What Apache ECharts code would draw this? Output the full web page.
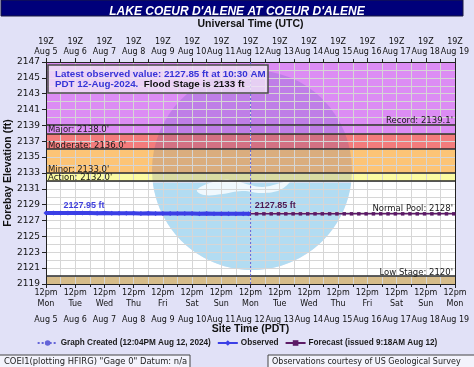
<!DOCTYPE html>
<html>
<head>
<meta charset="utf-8">
<script src="https://cdn.jsdelivr.net/npm/echarts@6/dist/echarts.min.js"></script>
<style>
  html, body { margin: 0; padding: 0; background: #e1e1f7; }
  #chart { width: 474px; height: 367px; }
</style>
</head>
<body>
<div id="chart"></div>
<script>
// axis base (ECharts counts ticks from min, so the y scale is offset to 0)
const BASE = 2119;
const TOP = 2147;

// tick labels, one per 12pm PDT / 19Z
const dayNames = ['Mon', 'Tue', 'Wed', 'Thu', 'Fri', 'Sat', 'Sun', 'Mon', 'Tue', 'Wed', 'Thu', 'Fri', 'Sat', 'Sun', 'Mon'];
const dayDates = ['Aug 5', 'Aug 6', 'Aug 7', 'Aug 8', 'Aug 9', 'Aug 10', 'Aug 11', 'Aug 12', 'Aug 13', 'Aug 14', 'Aug 15', 'Aug 16', 'Aug 17', 'Aug 18', 'Aug 19'];

// hours after 12pm PDT Aug 5
const obsHours = [0, 6, 12, 18, 24, 30, 36, 42, 48, 54, 60, 66, 72, 78, 84, 90, 96, 102, 108, 114, 120, 126, 132, 138, 144, 150, 156, 162, 166.5];
const obsValues = [2127.95, 2127.97, 2127.96, 2127.95, 2127.96, 2127.94, 2127.95, 2127.93, 2127.94, 2127.92, 2127.93, 2127.91, 2127.92, 2127.90, 2127.91, 2127.90, 2127.89, 2127.90, 2127.88, 2127.89, 2127.88, 2127.87, 2127.88, 2127.87, 2127.86, 2127.86, 2127.85, 2127.86, 2127.85];

const fcstHours = [167, 173, 179, 185, 191, 197, 203, 209, 215, 221, 227, 233, 239, 245, 251, 257, 263, 269, 275, 281, 287, 293, 299, 305, 311, 317, 323, 329, 335];
const fcstValues = [2127.85, 2127.85, 2127.85, 2127.85, 2127.85, 2127.85, 2127.85, 2127.85, 2127.85, 2127.85, 2127.85, 2127.85, 2127.85, 2127.85, 2127.85, 2127.85, 2127.85, 2127.85, 2127.85, 2127.85, 2127.85, 2127.85, 2127.85, 2127.85, 2127.85, 2127.85, 2127.85, 2127.85, 2127.85];

const graphCreatedHour = 168.07; // 12:04PM Aug 12
const latestValue = 2127.85;
const floodStage = 2133;

// flood categories
const stageLabels = ["Record: 2139.1'", "Major: 2138.0'", "Moderate: 2136.0'", "Minor: 2133.0'", "Action: 2132.0'", "Normal Pool: 2128'", "Low Stage: 2120'"];
const stageValues = [2139.1, 2138, 2136, 2133, 2132, 2128, 2120];

const bandLow = [2138, 2136, 2133, 2132, 2120, BASE];
const bandHigh = [TOP, 2138, 2136, 2133, 2132, 2120];

const bandColors = ['#dc8cf4', '#f37c7c', '#fcc476', '#fbfba2', '#ffffff', '#d6bc8a'];
const stageAtEnd = { "Record": 1, "Normal Pool": 1, "Low Stage": 1 };
const FONT = 'DejaVu Sans';
const BOLD = 'Liberation Sans';

const off = v => +(v - BASE).toFixed(3);

const myChart = echarts.init(document.getElementById('chart'));

const bandAreas = bandLow.map((lo, i) => [
  { yAxis: off(lo), itemStyle: { color: bandColors[i] } },
  { yAxis: off(bandHigh[i]) }
]);

const stageLines = stageValues.map((v, i) => {
  const name = stageLabels[i].split(':')[0];
  const end = stageAtEnd[name];
  return {
    yAxis: off(v),
    lineStyle: { color: name === 'Normal Pool' ? 'rgba(0,0,0,0)' : '#2a2a2a', width: 1.5, type: 'solid' },
    label: {
      formatter: stageLabels[i],
      position: end ? 'insideEndTop' : 'insideStartTop',
      distance: [2, -1]
    }
  };
});

// logo watermark (decoration only)
const cx = 252, cy = 170, r = 100, cut = 183;
const a0 = Math.asin((cut - cy) / r);
const lowerPts = [];
for (let k = 0; k <= 40; k++) {
  const a = a0 + (Math.PI - 2 * a0) * k / 40;
  lowerPts.push([cx + r * Math.cos(a), cy + r * Math.sin(a)]);
}
const gullPts = [[197, 190], [213, 182], [230, 180], [250, 185], [263, 187], [277, 184], [290, 181], [280, 190], [262, 193], [242, 191], [222, 194], [204, 195]];

const options = {
  backgroundColor: '#e1e1f7',
  animation: false,
  textStyle: { fontFamily: FONT },
  grid: { left: 46, right: 19, top: 62, bottom: 83, containLabel: false, outerBoundsMode: 'none' },
  title: {
    text: "LAKE COEUR D'ALENE AT COEUR D'ALENE",
    left: 'center',
    top: 1,
    z: 30,
    textStyle: { color: '#fff', fontFamily: BOLD, fontWeight: 'bold', fontStyle: 'italic', fontSize: 12 }
  },
  legend: {
    data: ['Graph Created (12:04PM Aug 12, 2024)', 'Observed', 'Forecast (issued 9:18AM Aug 12)'],
    left: 'center',
    top: 334,
    itemWidth: 20,
    itemHeight: 7,
    itemGap: 6,
    textStyle: { fontFamily: BOLD, fontWeight: 'bold', fontSize: 8.2, color: '#1a1a1a', padding: [0, 0, 0, -2] }
  },
  graphic: [
    { type: 'rect', z: 10, shape: { x: 1, y: 0, width: 462, height: 16 }, style: { fill: '#00007a', stroke: '#1a1a40', lineWidth: 1 } },
    { type: 'circle', z: 2, silent: true, shape: { cx: cx, cy: cy, r: r }, style: { fill: 'rgba(45,55,170,0.16)' } },
    { type: 'polygon', z: 2, silent: true, shape: { points: lowerPts }, style: { fill: '#b2dcf2' } },
    { type: 'polygon', z: 2, silent: true, shape: { points: gullPts, smooth: 0.4 }, style: { fill: 'rgba(255,255,255,0.8)' } },
    { type: 'rect', z: 10, shape: { x: 48, y: 65, width: 220, height: 28 }, style: { fill: 'rgba(240,228,246,0.8)', stroke: '#4a4a4a', lineWidth: 1.5 } },
    {
      type: 'text', z: 11, x: 55, y: 70,
      style: {
        text: '{b|Latest observed value: ' + latestValue.toFixed(2) + ' ft at 10:30 AM}\n{b|PDT 12-Aug-2024.}{k|  Flood Stage is ' + floodStage + ' ft}',
        rich: {
          b: { fontFamily: BOLD, fontWeight: 'bold', fontSize: 9.8, fill: '#3636d6', lineHeight: 9.5 },
          k: { fontFamily: BOLD, fontWeight: 'bold', fontSize: 9.8, fill: '#111', lineHeight: 9.5 }
        }
      }
    },
    { type: 'rect', z: 10, shape: { x: -1, y: 355, width: 191, height: 14 }, style: { fill: '#f3f3fc', stroke: '#444', lineWidth: 1 } },
    { type: 'text', z: 11, x: 4, y: 358, style: { text: 'COEI1(plotting HFIRG) "Gage 0" Datum: n/a', fontFamily: FONT, fontSize: 8.4, fill: '#222' } },
    { type: 'rect', z: 10, shape: { x: 268, y: 355, width: 210, height: 14 }, style: { fill: '#f3f3fc', stroke: '#444', lineWidth: 1 } },
    { type: 'text', z: 11, x: 272, y: 358, style: { text: 'Observations courtesy of US Geological Survey', fontFamily: FONT, fontSize: 8, fill: '#222' } }
  ],
  xAxis: [
    {
      type: 'value', position: 'bottom', min: 0, max: 336, interval: 24, z: 3,
      axisLine: { show: true, onZero: false, lineStyle: { color: '#222', width: 1 } },
      axisTick: { show: true, length: 4, lineStyle: { color: '#222' } },
      minorTick: { show: true, splitNumber: 2, length: 3, lineStyle: { color: '#222' } },
      splitLine: { show: true, lineStyle: { color: '#d6d6d6', width: 1 } },
      minorSplitLine: { show: true, lineStyle: { color: '#d6d6d6', width: 1 } },
      axisLabel: {
        margin: 3, fontFamily: FONT, fontSize: 8, color: '#111', lineHeight: 11.5,
        formatter: v => '12pm\n' + dayNames[v / 24] + '\n{d|' + dayDates[v / 24] + '}',
        rich: { d: { fontFamily: FONT, fontSize: 8, color: '#111', lineHeight: 19 } }
      },
      name: 'Site Time (PDT)', nameLocation: 'middle', nameGap: 40, nameMoveOverlap: false,
      nameTextStyle: { fontFamily: BOLD, fontWeight: 'bold', fontSize: 10.5, color: '#111' }
    },
    {
      type: 'value', position: 'top', min: 0, max: 336, interval: 24, z: 3,
      axisLine: { show: true, onZero: false, lineStyle: { color: '#222', width: 1 } },
      axisTick: { show: true, length: 4, lineStyle: { color: '#222' } },
      minorTick: { show: true, splitNumber: 2, length: 3, lineStyle: { color: '#222' } },
      splitLine: { show: false },
      axisLabel: {
        margin: 5, fontFamily: FONT, fontSize: 8, color: '#111', lineHeight: 10,
        formatter: v => '19Z\n' + dayDates[v / 24]
      },
      name: 'Universal Time (UTC)', nameLocation: 'middle', nameGap: 32, nameMoveOverlap: false,
      nameTextStyle: { fontFamily: BOLD, fontWeight: 'bold', fontSize: 10.5, color: '#111' }
    }
  ],
  yAxis: [
    {
      type: 'value', min: 0, max: off(TOP), interval: 2, z: 3,
      axisLine: { show: true, onZero: false, lineStyle: { color: '#222', width: 1 } },
      axisTick: { show: true, length: 4, lineStyle: { color: '#222' } },
      minorTick: { show: false, splitNumber: 2 },
      splitLine: { show: true, lineStyle: { color: '#d6d6d6', width: 1 } },
      minorSplitLine: { show: true, lineStyle: { color: '#d6d6d6', width: 1 } },
      axisLabel: { margin: 6, fontFamily: FONT, fontSize: 9, color: '#111', formatter: v => String(v + BASE) },
      name: 'Forebay Elevation (ft)', nameLocation: 'middle', nameGap: 32, nameMoveOverlap: false,
      nameTextStyle: { fontFamily: BOLD, fontWeight: 'bold', fontSize: 10.5, color: '#111' }
    },
    {
      type: 'value', position: 'right', min: 0, max: off(TOP), z: 3,
      axisLine: { show: true, onZero: false, lineStyle: { color: '#222', width: 1 } },
      axisTick: { show: false }, axisLabel: { show: false }, splitLine: { show: false }
    }
  ],
  series: [
    {
      name: 'bands', type: 'line', z: 1, silent: true, symbol: 'none',
      data: obsHours.map((h, i) => [h, off(obsValues[i])]),
      lineStyle: { opacity: 0 },
      markArea: { silent: true, data: bandAreas }
    },
    {
      name: 'stages', type: 'line', z: 4, silent: true, symbol: 'none',
      data: obsHours.map((h, i) => [h, off(obsValues[i])]),
      lineStyle: { opacity: 0 },
      markLine: {
        silent: true, symbol: ['none', 'none'], animation: false,
        label: { fontFamily: FONT, fontSize: 8.5, color: '#1a1a1a' },
        data: stageLines
      }
    },
    {
      name: 'Graph Created (12:04PM Aug 12, 2024)', type: 'line', z: 5, symbol: 'none',
      data: [[graphCreatedHour, off(BASE)], [graphCreatedHour, off(TOP)]],
      color: '#6464d8',
      lineStyle: { color: '#6464d8', width: 1, type: [2, 2] }
    },
    {
      name: 'Forecast (issued 9:18AM Aug 12)', type: 'line', z: 6,
      symbol: 'rect', symbolSize: 3.5, showAllSymbol: true,
      color: '#5c1a66',
      lineStyle: { color: '#5c1a66', width: 1.5 },
      data: fcstHours.map((h, i) => {
        const item = { value: [h, off(fcstValues[i])] };
        if (i === 0) {
          item.label = { show: true, position: 'top', offset: [26, 3], formatter: fcstValues[i].toFixed(2) + ' ft', fontFamily: BOLD, fontWeight: 'bold', fontSize: 9, color: '#4a1a55' };
        }
        return item;
      })
    },
    {
      name: 'Observed', type: 'line', z: 7,
      symbol: 'diamond', symbolSize: 5, showAllSymbol: true,
      color: '#3b3fe6',
      lineStyle: { color: '#3b3fe6', width: 4 },
      data: obsHours.map((h, i) => {
        const item = { value: [h, off(obsValues[i])] };
        if (i === 0) {
          item.label = { show: true, position: 'top', offset: [38, 4], formatter: obsValues[i].toFixed(2) + ' ft', fontFamily: BOLD, fontWeight: 'bold', fontSize: 9, color: '#4040dc' };
        }
        return item;
      })
    }
  ]
};

myChart.setOption(options);
</script>
</body>
</html>
